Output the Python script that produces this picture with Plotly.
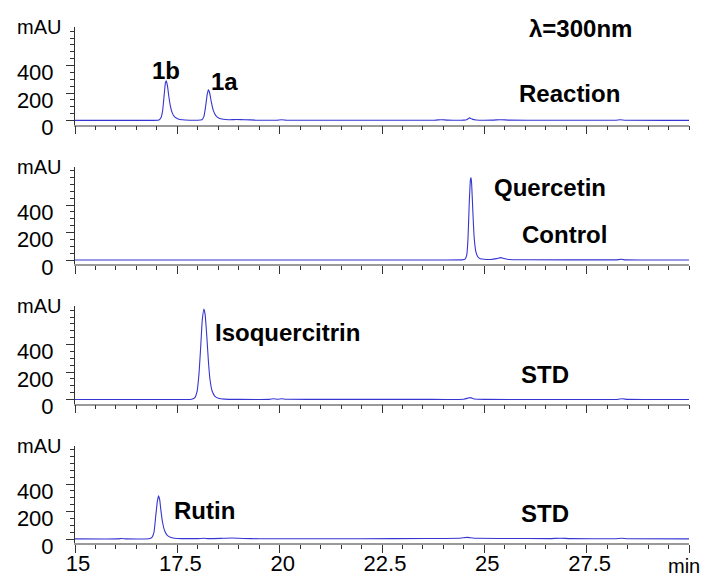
import plotly.graph_objects as go

# ---------------- data ----------------
reaction_t = [15.0, 16.0, 16.9, 17.05, 17.10, 17.14, 17.18, 17.21, 17.23, 17.26, 17.29, 17.33, 17.38,
              17.44, 17.52, 17.62, 17.80, 18.00, 18.10, 18.15, 18.19, 18.23, 18.26, 18.29, 18.33,
              18.38, 18.44, 18.52, 18.62, 18.75, 18.95, 19.15, 19.40, 19.80, 19.95, 20.05, 20.15,
              20.5, 21.5, 23.0, 23.8, 23.95, 24.1, 24.5, 24.58, 24.64, 24.70, 24.80, 25.2, 25.4,
              25.6, 26.5, 28.2, 28.32, 28.45, 30.0]
reaction_v = [1, 1, 1, 4, 20, 70, 190, 275, 288, 250, 180, 105, 52,
              24, 11, 5, 2, 2, 6, 30, 100, 190, 224, 200, 135,
              72, 36, 17, 9, 6, 7, 6, 3, 2, 3, 5, 3,
              2, 2, 2, 3, 6, 3, 3, 8, 19, 10, 4, 3, 6,
              3, 2, 2, 5, 2, 1]

control_t = [15.0, 20.0, 24.0, 24.45, 24.53, 24.57, 24.60, 24.63, 24.66, 24.675, 24.69, 24.72, 24.75,
             24.79, 24.84, 24.90, 25.00, 25.15, 25.30, 25.40, 25.48, 25.60, 26.0, 28.2, 28.35,
             28.45, 30.0]
control_v = [0, 0, 0, 1, 6, 35, 150, 400, 585, 600, 555, 350, 170,
             65, 24, 10, 5, 4, 10, 17, 11, 4, 2, 1, 5,
             1, 0]

isoq_t = [15.0, 17.0, 17.85, 17.93, 17.98, 18.03, 18.07, 18.11, 18.15, 18.18, 18.22, 18.26, 18.30,
          18.35, 18.42, 18.50, 18.65, 19.0, 19.75, 19.85, 19.95, 20.05, 20.15, 21.0, 23.5, 24.5,
          24.6, 24.66, 24.75, 25.0, 28.25, 28.37, 28.5, 30.0]
isoq_v = [0, 0, 2, 14, 55, 190, 380, 580, 658, 615, 460, 275, 140,
          62, 22, 9, 3, 1, 1, 6, 2, 6, 2, 1, 1, 2,
          10, 14, 4, 1, 1, 5, 1, 0]

rutin_t = [15.0, 16.05, 16.14, 16.25, 16.80, 16.88, 16.93, 16.97, 17.01, 17.04, 17.07, 17.10, 17.14,
           17.19, 17.25, 17.33, 17.43, 17.6, 18.0, 18.15, 18.25, 18.6, 18.85, 19.1, 19.5, 22.0,
           23.6, 24.4, 24.58, 24.66, 24.8, 25.5, 26.6, 26.85, 27.1, 28.2, 28.36, 28.5, 30.0]
rutin_v = [1, 1, 4, 1, 2, 12, 50, 160, 270, 315, 285, 205, 120,
           60, 28, 12, 6, 3, 3, 5, 3, 5, 7, 4, 2, 2,
           4, 5, 12, 9, 5, 4, 3, 6, 3, 2, 5, 2, 1]

x_tickvals = [15, 17.5, 20, 22.5, 25, 27.5]
x_ticktext = ["15", "17.5", "20", "22.5", "25", "27.5"]
y_tickvals = [0, 200, 400]
y_ticktext = ["0", "200", "400"]

series = [(reaction_t, reaction_v), (control_t, control_v), (isoq_t, isoq_v), (rutin_t, rutin_v)]

# panel labels: (text, x in min, y in mAU)
labels = [
    [("λ=300nm", 27.36, 672), ("1b", 17.22, 364), ("1a", 18.65, 287), ("Reaction", 27.09, 193)],
    [("Quercetin", 26.6, 530), ("Control", 26.97, 188)],
    [("Isoquercitrin", 20.2, 487), ("STD", 26.47, 182)],
    [("Rutin", 18.17, 210), ("STD", 26.47, 182)],
]

# ---------------- layout ----------------
W, H = 713, 576
ML, MR = 75, 24
PW = W - ML - MR
FONT = "Liberation Sans, Arial, sans-serif"
LINE_COLOR = "#3535d2"
Y_RANGE = [-29, 680]

fig = go.Figure()
layout = dict(
    width=W, height=H,
    margin=dict(l=ML, r=MR, t=0, b=0, autoexpand=False),
    paper_bgcolor="white", plot_bgcolor="white",
    showlegend=False,
    font=dict(family=FONT, color="black"),
)

annotations = []
for k, (t, v) in enumerate(series):
    idx = "" if k == 0 else str(k + 1)
    fig.add_trace(go.Scatter(x=t, y=v, mode="lines", xaxis="x" + idx, yaxis="y" + idx,
                             line=dict(color=LINE_COLOR, width=1.1, shape="spline", smoothing=0.4),
                             hoverinfo="skip"))
    top_px = 27 + 139.5 * k
    bot_px = 124.5 + 139.5 * k
    dom = [1 - bot_px / H, 1 - top_px / H]
    last = (k == 3)
    layout["xaxis" + idx] = dict(
        domain=[0, 1], range=[15, 30], anchor="y" + idx,
        showgrid=False, zeroline=False,
        showline=True, linecolor="#9a9a9a", linewidth=1.5,
        ticks="outside", ticklen=8, tickcolor="#333", tickwidth=1,
        tickvals=x_tickvals + [30], ticktext=x_ticktext + [""],
        showticklabels=last,
        tickfont=dict(size=22, family=FONT, color="black"),
        ticklabelshift=3, ticklabelstandoff=-8,
        minor=dict(ticks="outside", ticklen=4, tickcolor="#333", dtick=0.5, tick0=15, showgrid=False),
        fixedrange=True,
    )
    layout["yaxis" + idx] = dict(
        domain=dom, range=Y_RANGE, anchor="x" + idx,
        showgrid=False, zeroline=False,
        showline=True, linecolor="#333", linewidth=1,
        ticks="outside", ticklen=8, tickcolor="#333", tickwidth=1,
        tickvals=y_tickvals, ticktext=y_ticktext,
        tickfont=dict(size=22, family=FONT, color="black"),
        ticklabelshift=7, ticklabelstandoff=8,
        minor=dict(ticks="outside", ticklen=4, tickcolor="#333", dtick=50, tick0=0, showgrid=False),
        fixedrange=True,
    )
    # axis title "mAU" (paper coordinates, left of the y axis)
    annotations.append(dict(text="mAU", x=(39 - ML) / PW, y=1 - (27 + 139.5 * k) / H,
                            xref="paper", yref="paper",
                            showarrow=False, xanchor="center", yanchor="middle",
                            font=dict(size=20, family=FONT, color="black")))
    for (txt, lx, ly) in labels[k]:
        annotations.append(dict(text="<b>%s</b>" % txt, x=lx, y=ly, xref="x" + idx, yref="y" + idx,
                                showarrow=False, xanchor="center", yanchor="middle",
                                font=dict(size=24, family=FONT, color="black")))

annotations.append(dict(text="min", x=(666 - ML) / PW, y=1 - 566 / H,
                        xref="paper", yref="paper", showarrow=False,
                        xanchor="left", yanchor="middle",
                        font=dict(size=20, family=FONT, color="black")))
layout["annotations"] = annotations
fig.update_layout(**layout)

fig.write_html("out.html", config={"displayModeBar": False},
               post_script="document.body.style.margin='0';")
